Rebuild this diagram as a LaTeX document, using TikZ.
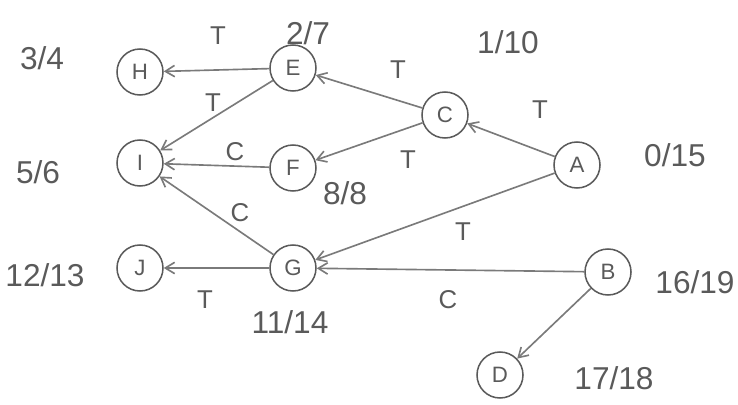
\documentclass[tikz,border=0pt]{standalone}
\usepackage{fontspec}
\setmainfont{Liberation Sans}
\usetikzlibrary{arrows.meta}
\definecolor{pencil}{HTML}{7A7A7A}
\definecolor{graphite}{HTML}{5A5A5A}
\tikzset{
  link/.style={-{Straight Barb[length=2.8mm,width=3.4mm]},draw=pencil,line width=1.4pt},
  vertex/.style={circle,draw=graphite,line width=1.3pt,minimum size=1.38cm,inner sep=0pt,font=\fontsize{19}{21}\selectfont,text=graphite},
  tag/.style={font=\fontsize{22}{24}\selectfont,text=graphite,inner sep=1pt},
  stamp/.style={font=\fontsize{27}{30}\selectfont,text=graphite,inner sep=1pt}
}
\begin{document}
\begin{tikzpicture}[x=0.03cm,y=-0.03cm]
  \useasboundingbox (0,0) rectangle (738,405);

  % vertices
  \node[vertex] (H) at (140,72) {H};
  \node[vertex] (E) at (293,68) {E};
  \node[vertex] (C) at (445,115) {C};
  \node[vertex] (A) at (577,165) {A};
  \node[vertex] (I) at (140,163) {I};
  \node[vertex] (F) at (293,168) {F};
  \node[vertex] (G) at (293,268) {G};
  \node[vertex] (J) at (140,268) {J};
  \node[vertex] (B) at (608,272) {B};
  \node[vertex] (D) at (500,375) {D};

  % discovery / finish times
  \node[stamp] (tH) at (42,58) {3/4};
  \node[stamp] (tE) at (308,33) {2/7};
  \node[stamp] (tC) at (508,42) {1/10};
  \node[stamp] (tA) at (675,155) {0/15};
  \node[stamp] (tI) at (38,172) {5/6};
  \node[stamp] (tF) at (345,193) {8/8};
  \node[stamp] (tJ) at (45,275) {12/13};
  \node[stamp] (tG) at (290,322) {11/14};
  \node[stamp] (tB) at (695,282) {16/19};
  \node[stamp] (tD) at (614,378) {17/18};

  % edges
  \draw[link] (E) -- (H);
  \draw[link] (C) -- (E);
  \draw[link] (E) -- (I);
  \draw[link] (C) -- (F);
  \draw[link] (A) -- (C);
  \draw[link] (F) -- (I);
  \draw[link] (G) -- (I);
  \draw[link] (A) -- (G);
  \draw[link] (G) -- (J);
  \draw[link] (B) -- (G);
  \draw[link] (B) -- (D);

  % edge kinds
  \node[tag] (kEH) at (218,36) {T};
  \node[tag] (kEI) at (213,103) {T};
  \node[tag] (kCE) at (398,70) {T};
  \node[tag] (kAC) at (540,110) {T};
  \node[tag] (kCF) at (408,160) {T};
  \node[tag] (kFI) at (235,152) {C};
  \node[tag] (kGI) at (240,213) {C};
  \node[tag] (kAG) at (463,232) {T};
  \node[tag] (kGJ) at (205,300) {T};
  \node[tag] (kBG) at (448,300) {C};
\end{tikzpicture}
\end{document}
